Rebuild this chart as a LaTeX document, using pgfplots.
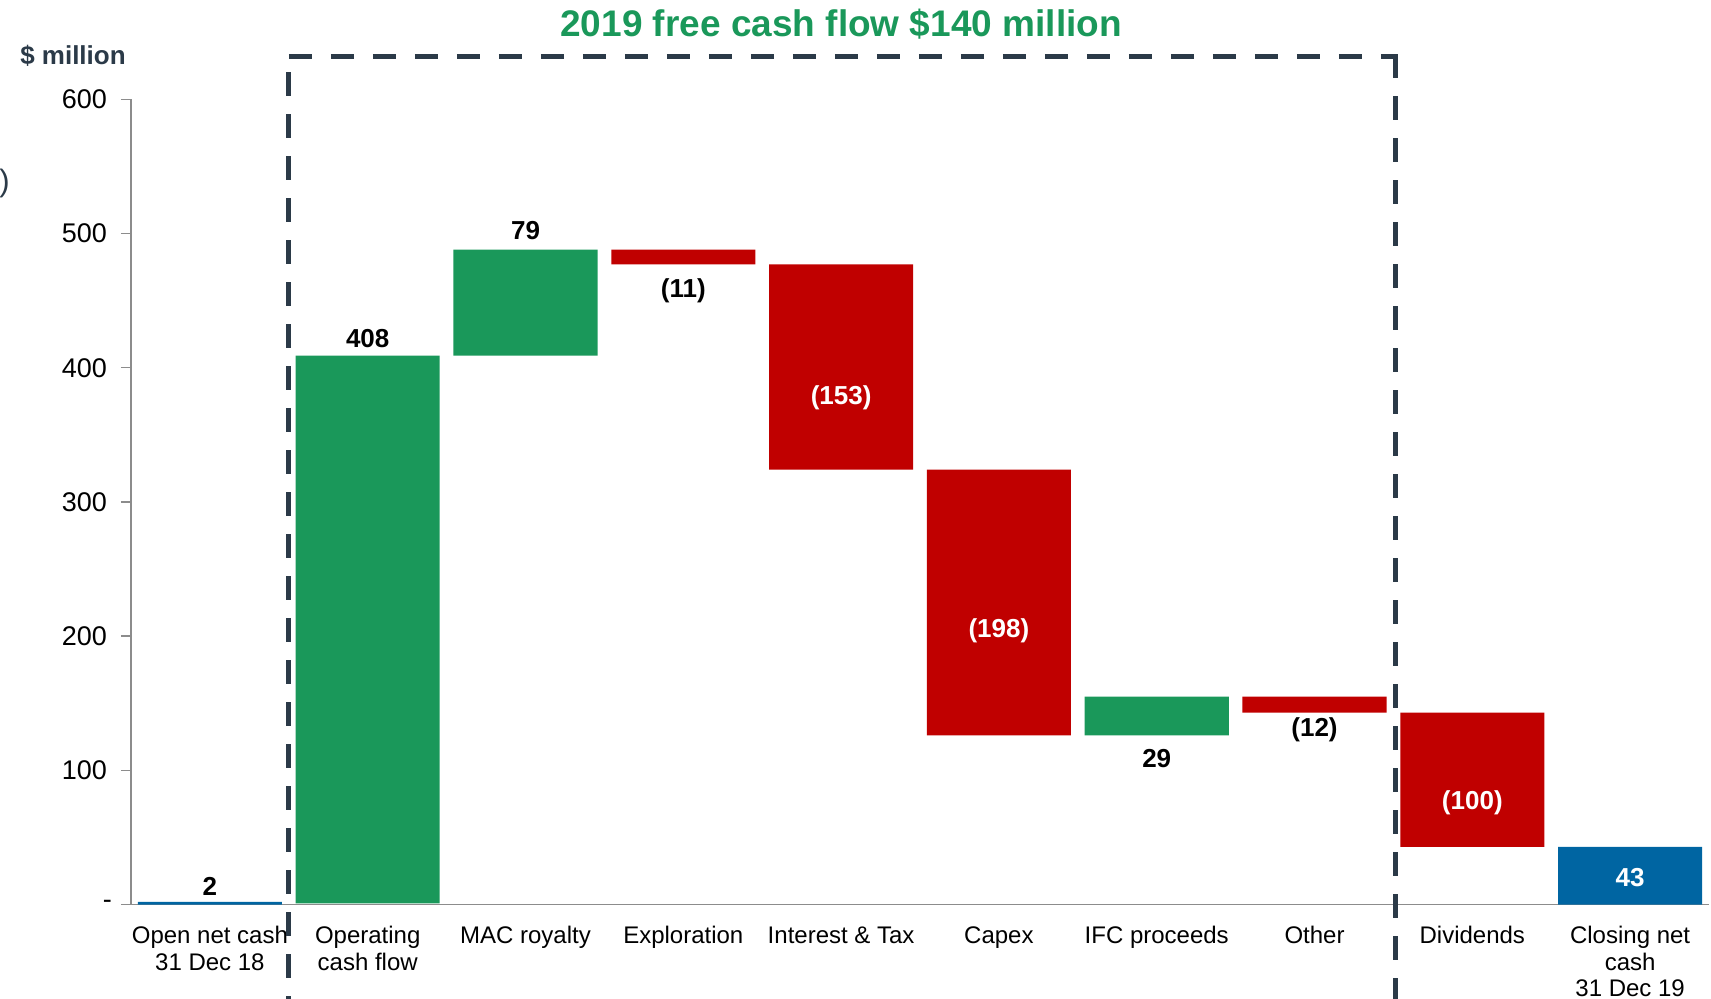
\documentclass[border=0pt]{standalone}
\usepackage{fontspec}
\setmainfont{Liberation Sans}
\usepackage{pgfplots}
\pgfplotsset{compat=1.18}
\definecolor{cgreen}{HTML}{1A985A}
\definecolor{cred}{HTML}{C00000}
\definecolor{cblue}{HTML}{0065A2}
\definecolor{cdark}{HTML}{2B3A48}
\definecolor{caxis}{HTML}{8C8C8C}
\tikzset{dlab/.style={font=\bfseries\fontsize{13}{15}\selectfont, inner sep=0pt}}
\begin{document}
\begin{tikzpicture}
\useasboundingbox (0,0) rectangle (855.5pt,499.5pt);
\node[font=\fontsize{15.5}{17}\selectfont, text=cdark, inner sep=0pt] at (2.3pt,408pt) {)};
\begin{axis}[
  at={(65.5pt,47.2pt)}, anchor=south west,
  scale only axis, width=789pt, height=402.65pt,
  xmin=-0.5, xmax=9.5, ymin=0, ymax=600, enlargelimits=false,
  ybar stacked, bar width=0.913,
  axis lines*=left,
  axis line style={caxis, line width=0.7pt},
  tick align=outside,
  major tick length=5pt,
  tick style={caxis, line width=0.7pt},
  xtick={0,...,9},
  xticklabels={{Open net cash\\31 Dec 18},{Operating\\cash flow},{MAC royalty},{Exploration},{Interest \& Tax},{Capex},{IFC proceeds},{Other},{Dividends},{Closing net\\cash\\31 Dec 19}},
  x tick style={draw=none},
  extra x ticks={-0.5,0.5,1.5,2.5,3.5,4.5,5.5,6.5,7.5,8.5,9.5},
  extra x tick labels={},
  extra x tick style={major tick length=4pt, tick style={caxis, line width=0.7pt}},
  ytick={0,100,...,600},
  yticklabels={{-\hspace*{-2.4pt}},100,200,300,400,500,600},
  xticklabel style={font=\fontsize{12}{13.2}\selectfont, align=center, anchor=north, inner sep=0pt, yshift=-5.7pt},
  yticklabel style={font=\fontsize{13.5}{15}\selectfont, anchor=east, inner sep=0pt, xshift=-6.8pt},
  clip=false,
]
\addplot[fill=none, draw=none] coordinates {(0,0) (1,1) (2,409) (3,477) (4,324) (5,126) (6,126) (7,143) (8,43) (9,0)};
\addplot[fill=cblue, draw=none] coordinates {(0,2) (1,0) (2,0) (3,0) (4,0) (5,0) (6,0) (7,0) (8,0) (9,43)};
\addplot[fill=cgreen, draw=none] coordinates {(0,0) (1,408) (2,79) (3,0) (4,0) (5,0) (6,29) (7,0) (8,0) (9,0)};
\addplot[fill=cred, draw=none] coordinates {(0,0) (1,0) (2,0) (3,11) (4,153) (5,198) (6,0) (7,12) (8,100) (9,0)};
\coordinate (L0) at (axis cs:0,13.8);
\coordinate (L1) at (axis cs:1,422);
\coordinate (L2) at (axis cs:2,502);
\coordinate (L3) at (axis cs:3,457.5);
\coordinate (L4) at (axis cs:4,377.5);
\coordinate (L5) at (axis cs:5,204);
\coordinate (L6) at (axis cs:6,109);
\coordinate (L7) at (axis cs:7,130);
\coordinate (L8) at (axis cs:8,75.5);
\coordinate (L9) at (axis cs:9,20.3);
\draw[cdark, line width=2.5pt, dash pattern=on 11.7pt off 9.3pt] (axis cs:0.5,631.8) -- (axis cs:7.516,631.8);
\draw[cdark, line width=2.5pt, dash pattern=on 11.7pt off 9.3pt] (axis cs:0.5,620) -- (axis cs:0.5,-80);
\draw[cdark, line width=2.5pt, dash pattern=on 11.7pt off 9.3pt] (axis cs:7.516,633.5) -- (axis cs:7.516,-80);
\node[font=\bfseries\fontsize{18.5}{22}\selectfont, text=cgreen] at (axis cs:4,656) {2019 free cash flow \$140 million};
\node[font=\bfseries\fontsize{13}{15}\selectfont, text=cdark] at (axis cs:-0.8676,632.4) {\$ million};
\end{axis}
\node[dlab] at (L0) {2};
\node[dlab] at (L1) {408};
\node[dlab] at (L2) {79};
\node[dlab] at (L3) {(11)};
\node[dlab, text=white] at (L4) {(153)};
\node[dlab, text=white] at (L5) {(198)};
\node[dlab] at (L6) {29};
\node[dlab] at (L7) {(12)};
\node[dlab, text=white] at (L8) {(100)};
\node[dlab, text=white] at (L9) {43};
\end{tikzpicture}
\end{document}
